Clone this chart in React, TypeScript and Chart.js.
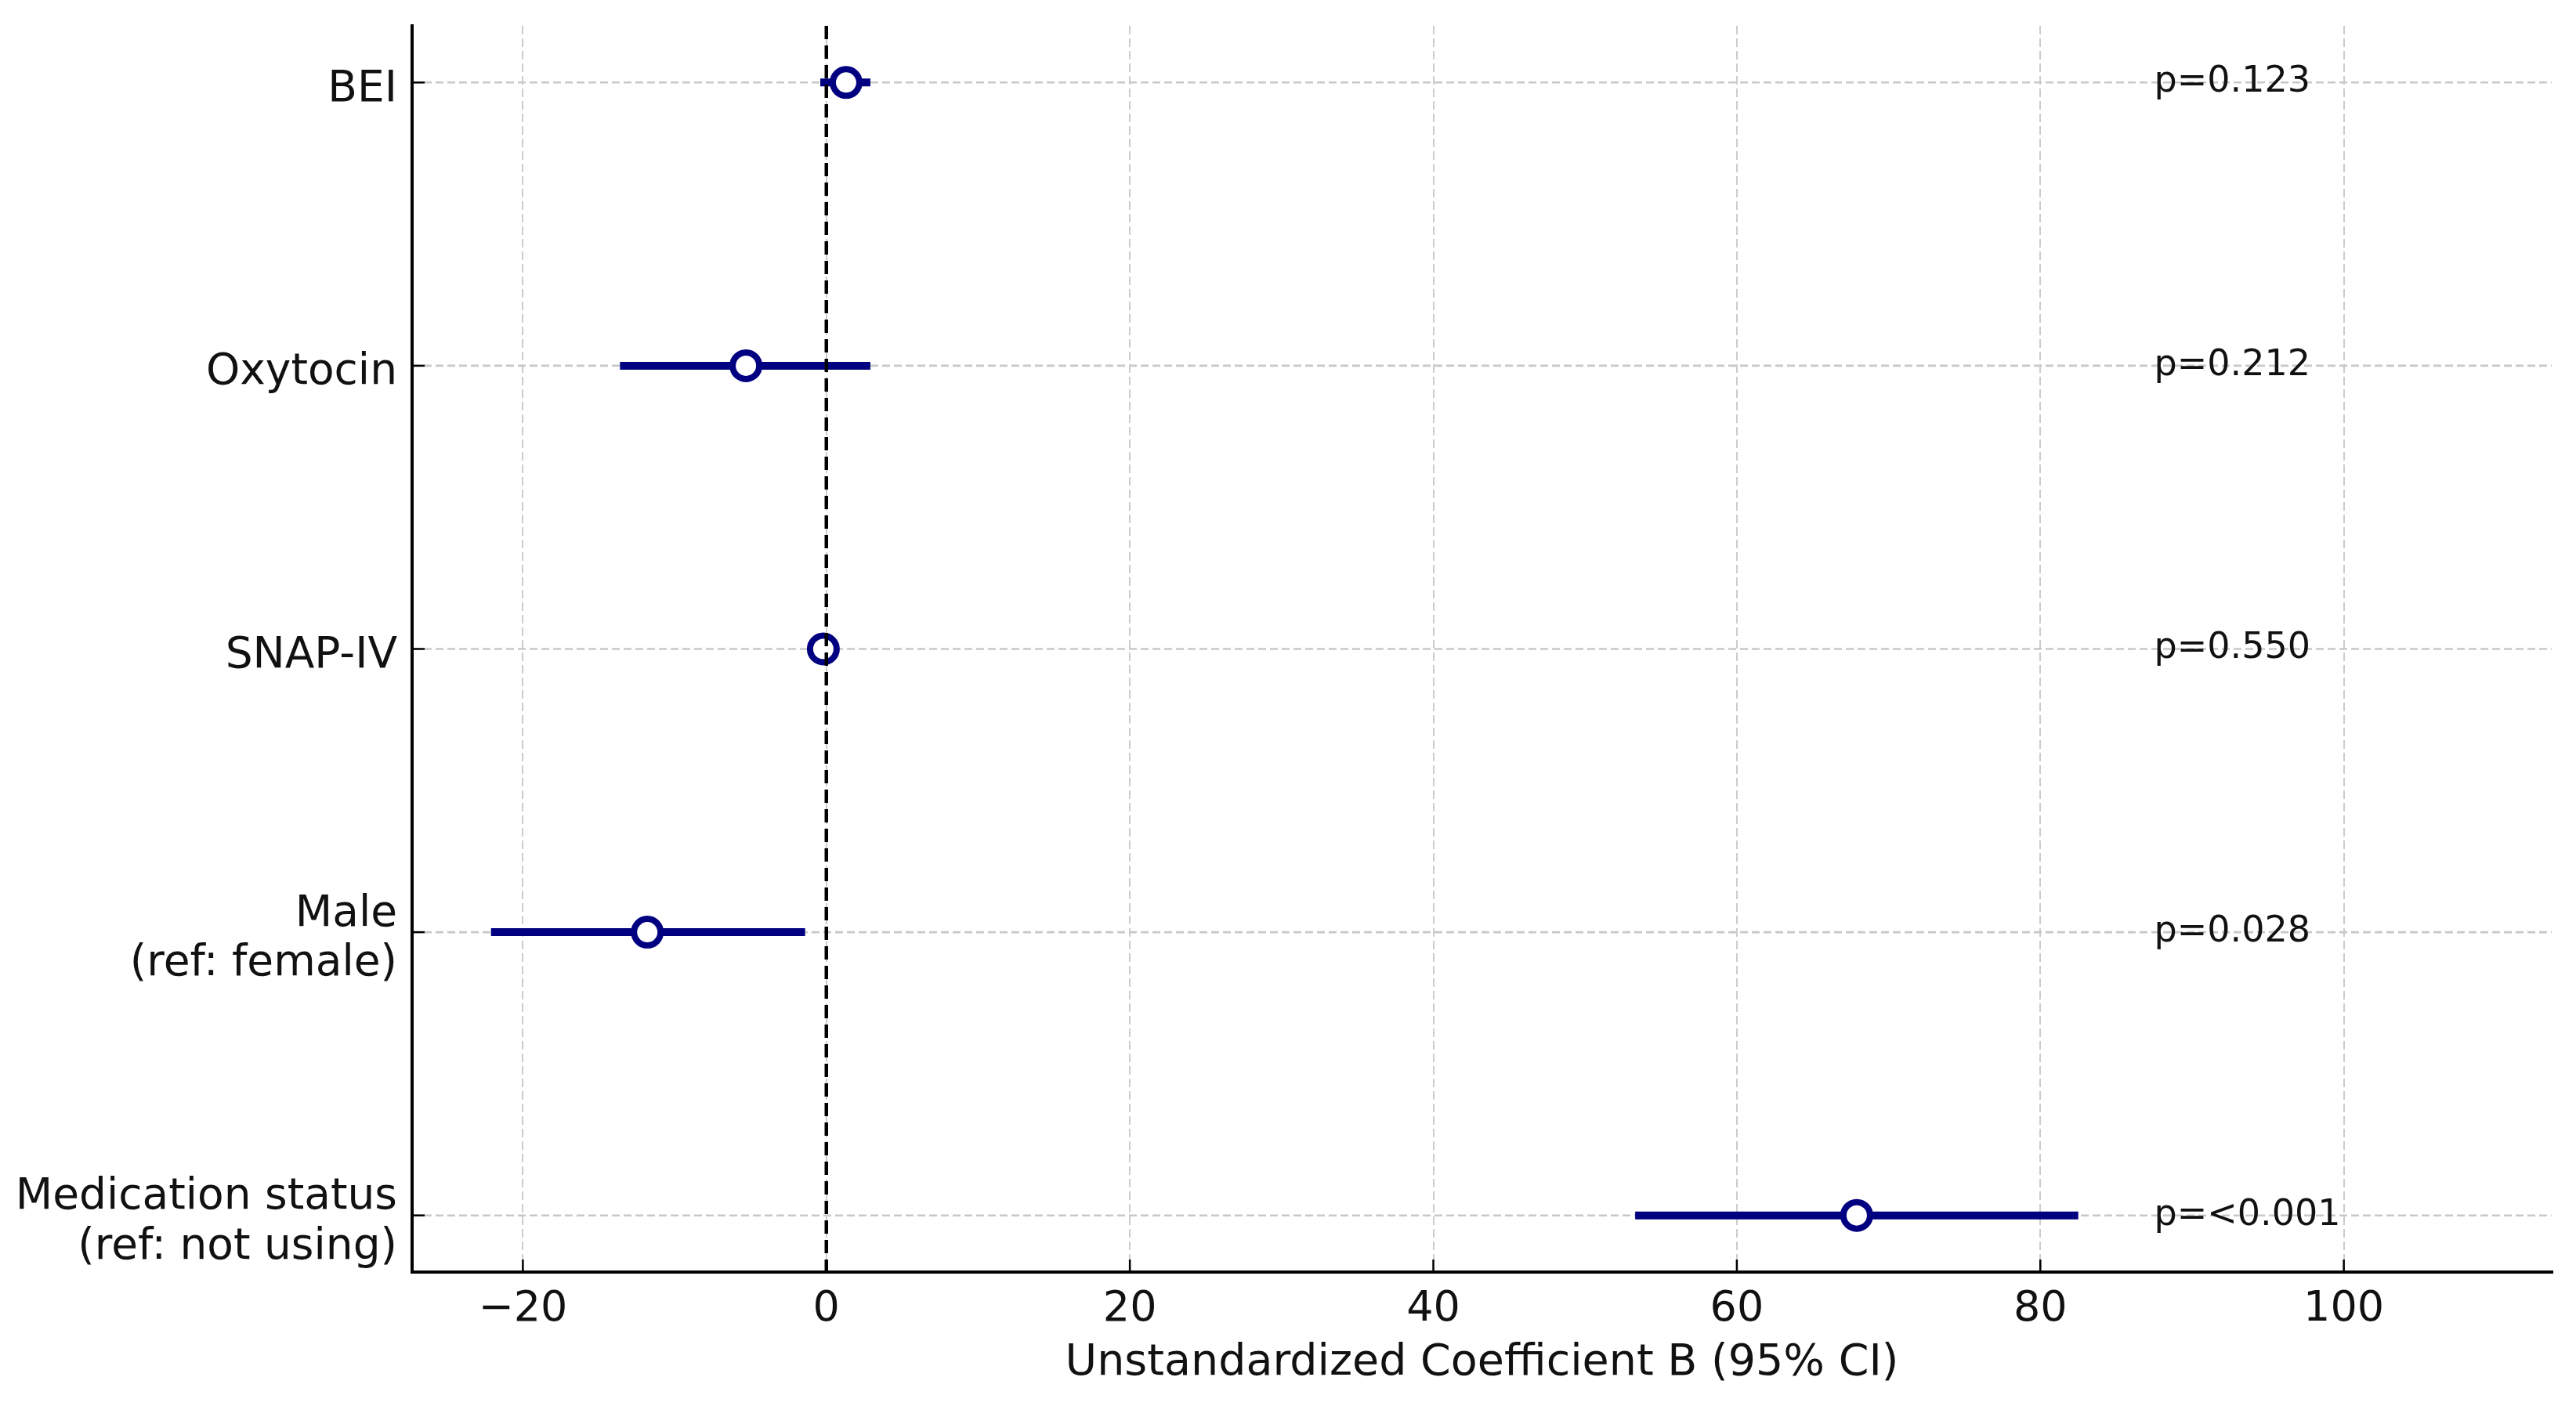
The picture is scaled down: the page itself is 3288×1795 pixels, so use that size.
import { useEffect, useRef } from 'react';
import { Chart, registerables } from 'chart.js';

Chart.register(...registerables);

// ---- data ----
const categories = [
  'BEI',
  'Oxytocin',
  'SNAP-IV',
  'Male\n(ref: female)',
  'Medication status\n(ref: not using)',
];
const coefB = [1.3, -5.3, -0.2, -11.8, 67.9];
const ciLower = [-0.4, -13.6, -0.6, -22.1, 53.3];
const ciUpper = [2.9, 2.9, 0.2, -1.4, 82.5];
const pValues = ['p=0.123', 'p=0.212', 'p=0.550', 'p=0.028', 'p=<0.001'];
const pLabelX = 87.5;
const xTicks = [-20, 0, 20, 40, 60, 80, 100];
const xMin = -27.3;
const xMax = 113.7;
const xTitle = 'Unstandardized Coefficient B (95% CI)';

const FONT = "'DejaVu Sans', 'Noto Sans', sans-serif";
const NAVY = '#000080';
const TEXT = '#111111';

export default function App() {
  const ref = useRef<HTMLCanvasElement>(null);

  useEffect(() => {
    document.body.style.margin = '0';
    const canvas = ref.current;
    if (!canvas) return;

    const decor = {
      id: 'forestDecor',
      beforeDatasetsDraw(chart: any) {
        const { ctx, chartArea: a, scales } = chart;
        const x = scales.x;
        const y = scales.y;
        ctx.save();
        // vertical grid
        ctx.lineWidth = 2;
        ctx.strokeStyle = '#cccccc';
        ctx.setLineDash([11, 5]);
        xTicks.forEach((v) => {
          const px = Math.round(x.getPixelForValue(v));
          ctx.beginPath();
          ctx.moveTo(px, a.top);
          ctx.lineTo(px, a.bottom);
          ctx.stroke();
        });
        // horizontal grid
        ctx.lineWidth = 2.6;
        ctx.strokeStyle = '#c8c8c8';
        ctx.setLineDash([10, 5]);
        categories.forEach((_, i) => {
          const py = y.getPixelForValue(i);
          ctx.beginPath();
          ctx.moveTo(a.left, py);
          ctx.lineTo(a.right, py);
          ctx.stroke();
        });
        ctx.restore();
      },
      afterDatasetsDraw(chart: any) {
        const { ctx, chartArea: a, scales } = chart;
        const x = scales.x;
        const y = scales.y;
        ctx.save();
        // zero reference line
        const x0 = x.getPixelForValue(0);
        ctx.lineWidth = 4.5;
        ctx.strokeStyle = '#000000';
        ctx.setLineDash([17, 8]);
        ctx.beginPath();
        ctx.moveTo(x0, a.top);
        ctx.lineTo(x0, a.bottom);
        ctx.stroke();
        ctx.setLineDash([]);

        // p-values
        ctx.fillStyle = TEXT;
        ctx.font = `46px ${FONT}`;
        ctx.textAlign = 'left';
        ctx.textBaseline = 'middle';
        pValues.forEach((p, i) => {
          ctx.fillText(p, x.getPixelForValue(pLabelX), y.getPixelForValue(i));
        });

        // spines
        ctx.strokeStyle = '#000000';
        ctx.lineWidth = 4;
        ctx.lineCap = 'square';
        ctx.beginPath();
        ctx.moveTo(a.left, a.top);
        ctx.lineTo(a.left, a.bottom);
        ctx.lineTo(a.right, a.bottom);
        ctx.stroke();

        // inward tick marks
        ctx.lineCap = 'butt';
        ctx.lineWidth = 2.5;
        xTicks.forEach((v) => {
          const px = x.getPixelForValue(v);
          ctx.beginPath();
          ctx.moveTo(px, a.bottom);
          ctx.lineTo(px, a.bottom - 16);
          ctx.stroke();
        });
        categories.forEach((_, i) => {
          const py = y.getPixelForValue(i);
          ctx.beginPath();
          ctx.moveTo(a.left, py);
          ctx.lineTo(a.left + 16, py);
          ctx.stroke();
        });
        ctx.restore();
      },
    };

    const ciDatasets = categories.map((_, i) => ({
      type: 'line' as const,
      data: [
        { x: ciLower[i], y: i },
        { x: ciUpper[i], y: i },
      ],
      borderColor: NAVY,
      borderWidth: 10,
      borderCapStyle: 'butt' as const,
      pointRadius: 0,
      showLine: true,
      fill: false,
      order: 2,
    }));

    const chart = new Chart(canvas, {
      type: 'scatter',
      data: {
        datasets: [
          {
            type: 'scatter',
            data: coefB.map((b, i) => ({ x: b, y: i })),
            pointRadius: 17,
            pointBorderWidth: 8,
            pointBackgroundColor: '#ffffff',
            pointBorderColor: NAVY,
            order: 0,
          } as any,
          ...ciDatasets,
        ],
      },
      options: {
        animation: false,
        responsive: false,
        events: [],
        layout: { padding: { top: 33, right: 31, left: 0, bottom: 0 } },
        plugins: {
          legend: { display: false },
          tooltip: { enabled: false },
        },
        scales: {
          x: {
            type: 'linear',
            min: xMin,
            max: xMax,
            afterBuildTicks: (s: any) => {
              s.ticks = xTicks.map((v) => ({ value: v }));
            },
            afterFit: (s: any) => {
              s.height = 171;
              s.paddingLeft = 0;
              s.paddingRight = 0;
            },
            grid: { display: false, drawTicks: false },
            border: { display: false },
            ticks: {
              padding: 16,
              color: TEXT,
              maxRotation: 0,
              autoSkip: false,
              font: { family: FONT, size: 54 },
              callback: (v: any) => (Number(v) < 0 ? '\u2212' + Math.abs(Number(v)) : String(v)),
            },
            title: {
              display: true,
              text: xTitle,
              color: TEXT,
              font: { family: FONT, size: 55.5, lineHeight: 1.2 },
              padding: { top: 0, bottom: 21 },
            },
          },
          y: {
            type: 'linear',
            reverse: true,
            min: -0.2,
            max: 4.2,
            afterBuildTicks: (s: any) => {
              s.ticks = categories.map((_, i) => ({ value: i }));
            },
            afterFit: (s: any) => {
              s.width = 526;
              s.paddingTop = 0;
              s.paddingBottom = 0;
            },
            grid: { display: false, drawTicks: false },
            border: { display: false },
            ticks: {
              padding: 19,
              labelOffset: 9,
              color: TEXT,
              autoSkip: false,
              font: { family: FONT, size: 55, lineHeight: 1.15 },
              callback: (v: any) => {
                const label = categories[Math.round(Number(v))];
                return label ? label.split('\n') : '';
              },
            },
          },
        },
      } as any,
      plugins: [decor],
    });

    return () => chart.destroy();
  }, []);

  return (
    <canvas
      ref={ref}
      width={3288}
      height={1795}
      style={{ display: 'block', width: '3288px', height: '1795px' }}
    />
  );
}
